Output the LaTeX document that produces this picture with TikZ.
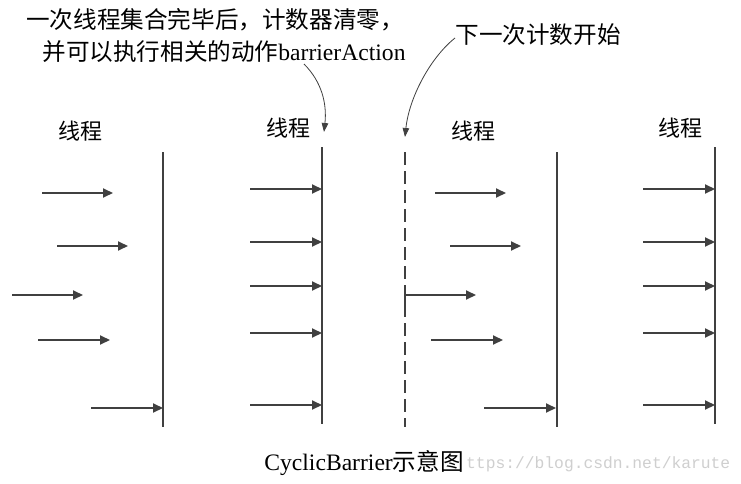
\documentclass[tikz,border=0pt]{standalone}
\usepackage{fontspec}
\setmainfont{Liberation Serif}
\newfontfamily\cjk{Noto Sans CJK SC}
\newfontfamily\wmfont{Liberation Mono}
\usetikzlibrary{arrows.meta}
\definecolor{ink}{HTML}{404040}
\definecolor{wmgray}{HTML}{CFCFCF}
\begin{document}
\begin{tikzpicture}[x=1pt,y=-1pt,
  thr/.style={draw=ink, line width=2pt, -{Triangle[length=10pt,width=9pt]}},
  bar/.style={draw=ink, line width=2pt},
  dbar/.style={draw=ink, line width=2pt, dash pattern=on 13pt off 6pt},
  note/.style={draw=ink, line width=0.8pt, -{Triangle[length=9pt,width=6.5pt]}},
  lbl/.style={font=\cjk\fontsize{22}{26}\selectfont, inner sep=0pt},
  txt/.style={font=\fontsize{23.6}{27}\selectfont, inner sep=0pt},
]
\useasboundingbox (0,0) rectangle (741,484);
\fill[white] (0,0) rectangle (741,484);

% top notes
\node[txt] (t1) at (215,20) {\cjk 一次线程集合完毕后，计数器清零，};
\node[txt] (t2) at (224,52) {{\cjk 并可以执行相关的动作}barrierAction};
\node[txt] (t3) at (538,35) {\cjk 下一次计数开始};

% thread labels
\node[lbl] (l1) at (80,131) {线程};
\node[lbl] (l2) at (288,128) {线程};
\node[lbl] (l3) at (473,131) {线程};
\node[lbl] (l4) at (680,128) {线程};

% caption and watermark
\node[txt] (cap) at (364,463) {CyclicBarrier{\cjk 示意图}};
\node[font=\wmfont\fontsize{16.3}{18}\selectfont, text=wmgray, inner sep=0pt, anchor=west] (wm) at (466,464) {ttps://blog.csdn.net/karute};

% barriers
\coordinate (b1t) at (163,152); \coordinate (b1b) at (163,427);
\coordinate (b2t) at (322,147); \coordinate (b2b) at (322,424);
\coordinate (b3t) at (405,152); \coordinate (b3b) at (405,427);
\coordinate (b4t) at (557,152); \coordinate (b4b) at (557,427);
\coordinate (b5t) at (715,147); \coordinate (b5b) at (715,424);
\draw[bar] (b1t) -- (b1b);
\draw[bar] (b2t) -- (b2b);
\draw[dbar] (b3t) -- (b3b);
\draw[bar] (b4t) -- (b4b);
\draw[bar] (b5t) -- (b5b);

% thread arrows
\foreach \i/\xa/\xb/\y in {
  p1a/42/113/193, p1b/57/128/246, p1c/12/83/295, p1d/38/110/340, p1e/91/163/408,
  p2a/250/322/189, p2b/250/322/242, p2c/250/322/286, p2d/250/322/333, p2e/250/322/405,
  p3a/435/506/193, p3b/450/521/246, p3d/431/503/340, p3e/484/556/408,
  p4a/643/715/189, p4b/643/715/242, p4c/643/715/286, p4d/643/715/333, p4e/643/715/405}{
  \coordinate (\i s) at (\xa,\y);
  \coordinate (\i e) at (\xb,\y);
  \draw[thr] (\i s) -- (\i e);
}
\coordinate (p3cs) at (405,310);
\coordinate (p3ck) at (405,295);
\coordinate (p3ce) at (476,295);
\draw[thr] (p3cs) -- (p3ck) -- (p3ce);

% curved pointers
\coordinate (c1s) at (304,64);
\coordinate (c1e) at (324,132);
\draw[note] (c1s) .. controls (322,82) and (327,104) .. (c1e);
\coordinate (c2s) at (455,38);
\coordinate (c2e) at (405,137);
\draw[note] (c2s) .. controls (430,58) and (409,98) .. (c2e);
\end{tikzpicture}
\end{document}
